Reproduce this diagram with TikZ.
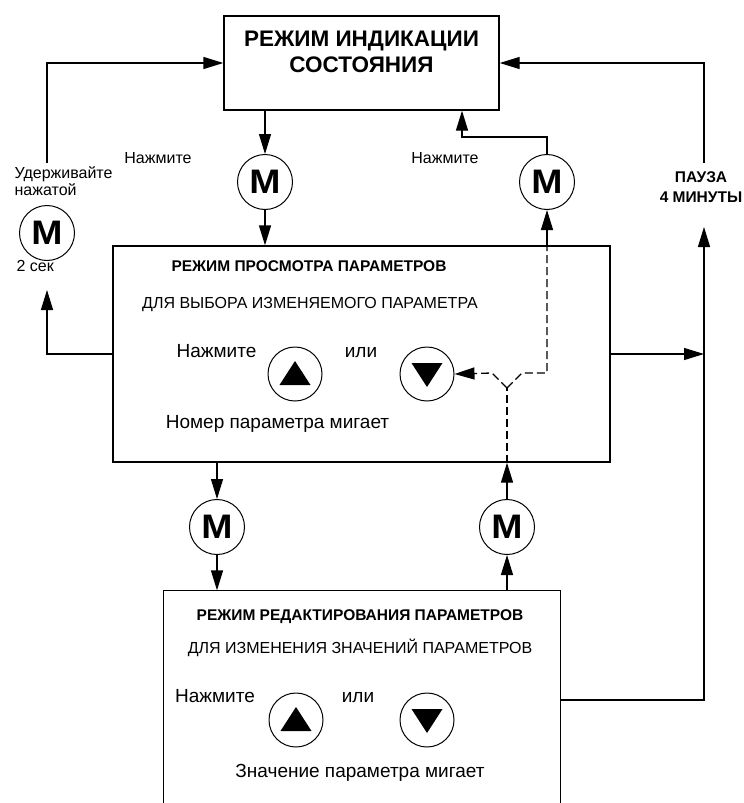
\documentclass[tikz,border=0pt]{standalone}
\usepackage{fontspec}
\usepackage{graphicx}
\setmainfont{Liberation Sans}
\usetikzlibrary{arrows.meta}

\newcommand{\mkey}{\scalebox{1.1}[1]{M}}

\tikzset{
  mode/.style={draw,line width=1.3pt,inner sep=0pt},
  mbtn/.style={circle,draw,line width=1pt,minimum size=55pt,inner sep=0pt,
    font=\bfseries\fontsize{34}{34}\selectfont},
  upbtn/.style={circle,draw,line width=1pt,minimum size=54pt,inner sep=0pt,
    path picture={\fill ([shift={(-15.5,11)}]path picture bounding box.center)
      -- ++(31,0) -- ++(-15.5,-24) -- cycle;}},
  dnbtn/.style={circle,draw,line width=1pt,minimum size=54pt,inner sep=0pt,
    path picture={\fill ([shift={(-15.5,-11)}]path picture bounding box.center)
      -- ++(31,0) -- ++(-15.5,24) -- cycle;}},
  arr/.style={-{Triangle[length=20pt,width=12pt]}},
  dashline/.style={dash pattern=on 8pt off 4pt},
  title/.style={font=\bfseries\fontsize{22.5}{26}\selectfont,align=center},
  head/.style={font=\bfseries\fontsize{15.5}{18}\selectfont,anchor=base},
  sub/.style={font=\fontsize{16}{19}\selectfont,anchor=base},
  big/.style={font=\fontsize{19}{22}\selectfont,anchor=base},
  note/.style={font=\fontsize{16}{17}\selectfont},
}

\begin{document}
\begin{tikzpicture}[x=1pt,y=-1pt,line width=1.3pt]
\useasboundingbox (0,0) rectangle (744,803);

% modes
\node[mode,minimum width=275pt,minimum height=94pt] (status) at (361.5,63) {};
\node[title] (statustext) at (361.5,51.5) {РЕЖИМ ИНДИКАЦИИ\\СОСТОЯНИЯ};

\node[mode,minimum width=497pt,minimum height=216pt] (view) at (361.5,354) {};
\node[head] (viewhead) at (309,271) {РЕЖИМ ПРОСМОТРА ПАРАМЕТРОВ};
\node[sub] (viewsub) at (310,308) {ДЛЯ ВЫБОРА ИЗМЕНЯЕМОГО ПАРАМЕТРА};
\node[big] (viewpress) at (216.5,357) {Нажмите};
\node[big] (viewor) at (361,357) {или};
\node[upbtn] (upview) at (295,374) {};
\node[dnbtn] (dnview) at (427,374) {};
\node[big] (viewblink) at (277.5,428) {Номер параметра мигает};

\node[minimum width=396pt,minimum height=218pt,inner sep=0pt] (edit) at (362,700) {};
\draw (edit.south west) -- (edit.north west) -- (edit.north east) -- (edit.south east);
\node[head] (edithead) at (360,620) {РЕЖИМ РЕДАКТИРОВАНИЯ ПАРАМЕТРОВ};
\node[sub] (editsub) at (360,653) {ДЛЯ ИЗМЕНЕНИЯ ЗНАЧЕНИЙ ПАРАМЕТРОВ};
\node[big] (editpress) at (215,702) {Нажмите};
\node[big] (editor) at (358,702) {или};
\node[upbtn] (upedit) at (296,720) {};
\node[dnbtn] (dnedit) at (427,720) {};
\node[big] (editblink) at (360,777) {Значение параметра мигает};

% buttons
\node[mbtn] (menter) at (265,182) {\mkey};
\node[mbtn] (mexit) at (547,182) {\mkey};
\node[mbtn] (mhold) at (47,233) {\mkey};
\node[mbtn] (medit) at (217,527) {\mkey};
\node[mbtn] (mback) at (507,527) {\mkey};

\node[note,anchor=base] (pressenter) at (158,163) {Нажмите};
\node[note,anchor=base] (pressexit) at (445,163) {Нажмите};
\node[note,align=left,anchor=north west,inner sep=0pt] (hold) at (14,166) {Удерживайте\\нажатой};
\node[note,anchor=base west,inner sep=0pt] (twosec) at (16,271) {2 сек};
\node[font=\bfseries\fontsize{15.5}{20}\selectfont,align=center] (pause) at (701,187) {ПАУЗА\\4 МИНУТЫ};

% connectors
\draw[arr] (menter |- status.south) -- (menter.north);
\draw[arr] (menter.south) -- (menter |- view.north);
\draw[arr] (mexit.north) |- (462,137) -- (462,0 |- status.south);
\draw[arr] (mexit |- view.north) -- (mexit.south);
\draw[arr] (medit |- view.south) -- (medit.north);
\draw[arr] (medit.south) -- (medit |- edit.north);
\draw[arr] (mback.north) -- (mback |- view.south);
\draw[arr] (mback |- edit.north) -- (mback.south);

\coordinate (fork) at (507,388);
\draw[dashline] (mback |- view.south) -- (fork);
\draw[dashline,arr] (fork) -- ++(-15,-15) -- (dnview.east);
\draw[dashline] (fork) -- ++(15,-15) -| (mexit |- view.north);

\coordinate (holdin) at (47,290);
\coordinate (holdout) at (47,163);
\draw[arr] (view.west) -| (holdin);
\draw[arr] (holdout) |- (status.west);

\coordinate (pausein) at (704,227);
\coordinate (pauseout) at (704,163);
\draw[arr] (edit.east) -| (pausein);
\draw[arr] (view.east) -- (view.east -| pausein);
\draw[arr] (pauseout) |- (status.east);
\end{tikzpicture}
\end{document}
